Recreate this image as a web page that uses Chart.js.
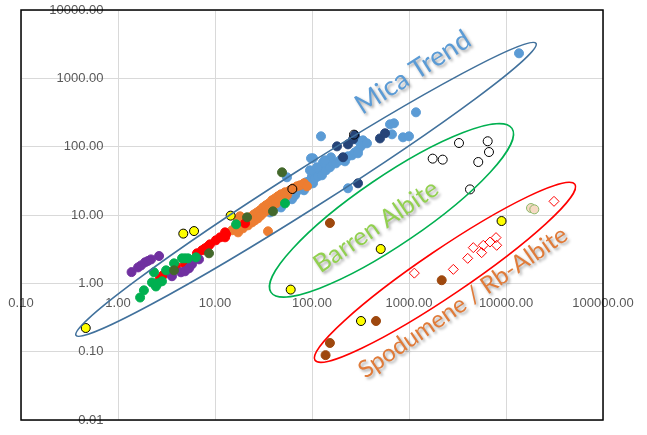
<!DOCTYPE html>
<html>
<head>
<meta charset="utf-8">
<script src="https://cdn.jsdelivr.net/npm/chart.js@4"></script>
<style>
    html, body { margin: 0; padding: 0; background: #fff; }
    #wrap { width: 647px; height: 435px; position: relative; }
</style>
</head>
<body>
<div id="wrap"><canvas id="chart"></canvas></div>
<script>
const ctx = document.getElementById('chart');

// axis ticks
const xTicks = [0.1, 1, 10, 100, 1000, 10000, 100000];
const xTickLabels = ['0.10', '1.00', '10.00', '100.00', '1000.00', '10000.00', '100000.00'];
const yTicks = [0.01, 0.1, 1, 10, 100, 1000, 10000];
const yTickLabels = ['0.01', '0.10', '1.00', '10.00', '100.00', '1000.00', '10000.00'];

// series values [x, y]
const purple = [[1.38,1.46],[1.61,1.71],[1.73,1.83],[1.90,2.03],[2.04,2.13],[2.19,2.24],[2.65,2.51],
    [3.60,1.27],[4.46,1.45],[4.91,1.50],[5.40,1.66],[5.79,1.90],[6.84,2.24]];
const green = [[1.69,0.62],[1.85,0.79],[2.24,1.03],[2.35,1.45],[2.46,0.90],[2.58,1.00],[2.84,1.07],
    [3.13,1.55],[3.78,1.96],[4.57,2.32],[4.91,2.32],[5.27,2.32],[6.37,2.40],[16.5,7.30],[52.7,14.8]];
const red = [[2.71,1.18],[2.91,1.31],[3.20,1.50],[3.96,1.77],[4.91,1.90],[5.52,2.10],[6.52,2.75],
    [7.34,3.04],[7.88,3.25],[8.47,3.48],[8.88,3.72],[10.2,4.26],[11.3,4.71],[12.7,5.57],[12.7,4.71],
    [13.0,5.21],[20.4,7.55]];
const olive = [[3.78,1.55],[8.67,2.75],[21.4,9.25],[39.6,11.3],[49.1,42.1]];
const orange = [[15.0,5.97],[16.5,6.82],[17.3,5.57],[18.5,7.30],[19.4,6.38],[20.9,8.36],[21.9,7.06],
    [22.9,9.25],[24.1,7.81],[25.2,10.2],[25.8,8.36],[27.1,10.9],[27.7,8.94],[29.1,11.7],[29.8,9.89],
    [31.3,12.9],[32.0,10.9],[33.6,13.9],[34.4,11.7],[36.0,14.8],[36.9,12.5],[38.7,16.4],[39.6,13.9],
    [41.6,17.5],[42.6,14.8],[44.6,18.8],[45.7,16.4],[47.9,20.1],[50.2,17.5],[52.7,21.5],[55.2,19.4],
    [59.3,23.0],[63.7,24.6],[70.0,26.3],[75.2,27.2],[82.7,29.1],[88.8,26.3],[35.2,5.77],[18.1,9.57],
    [17.3,8.36]];
const lightBlue = [[36.9,10.9],[41.6,13.9],[47.9,12.9],[51.4,16.4],[55.2,18.1],[59.3,19.4],[62.2,17.0],
    [66.8,19.4],[70.0,22.2],[75.2,24.6],[78.9,27.2],[82.7,23.0],[86.7,30.1],[90.9,27.2],[95.3,32.2],
    [100,36.8],[102.4,29.1],[107.4,34.4],[112.6,42.1],[115.3,36.8],[120.9,45.1],[126.7,38.1],
    [132.9,48.2],[139.4,45.1],[146.2,53.3],[153.3,49.9],[164.6,57.0],[176.6,57.0],[194.4,63.1],
    [208.7,67.5],[218.8,61.0],[234.8,72.2],[258.3,74.7],[277.3,82.6],[297.7,88.4],[157.0,69.8],
    [129.8,59.0],[102.4,67.5],[97.7,67.5],[136.1,63.1],[55.2,35.6],[95.3,45.1],[112.6,49.9],
    [78.9,25.4],[234.8,24.6],[123.8,141.7],[297.7,123.8],[335.5,123.8],[319.6,101.2],[636.8,212.2],
    [700.0,219.6],[667.7,151.6],[866.6,137.0],[1000,141.7],[1180,318.2],[13620,2323],[368.8,111.9],
    [297.7,79.9]];
const darkBlue = [[181,101],[235,108],[265,128],[277,147],[209,70],[298,29.1],[502,132],[566,157]];
const yellow = [[0.465,0.222],[4.71,5.34],[6.08,5.82],[14.5,9.79],[60.3,0.81],[511,3.18],[320,0.281],[9000,8.16]];
const openCircles = [[1754,66.8],[2225,64.6],[3276,113],[6476,120],[6675,83.5],[5176,59.6],[4254,23.7],
    [62.7,24.0],[271,150]];
const brown = [[153,7.63],[153,0.134],[138,0.089],[457,0.281],[2174,1.11]];
const diamonds = [[1135,1.41],[2864,1.60],[4029,2.32],[4600,3.33],[5610,2.81],[5830,3.60],[6836,4.02],
    [7890,4.67],[8020,3.60],[31260,15.85]];
const tan = [[18100,12.65],[19580,12.1]];

// field outlines (data-space tips) and their labels
const fields = [
    { from: [0.369, 0.173], to: [20400, 3252], half: 20, color: '#41719C' },
    { from: [37.8, 0.738], to: [11530, 185.5], half: 34, color: '#00B050' },
    { from: [107.4, 0.0747], to: [51400, 28.1], half: 23, color: '#FF0000' },
];
const fieldLabels = [
    { text: 'Mica Trend', at: [1100, 1224], angle: 32.5, size: 27, color: '#5B9BD5' },
    { text: 'Barren Albite', at: [457, 6.83], angle: 34, size: 25, color: '#92D050' },
    { text: 'Spodumene / Rb-Albite', at: [3600, 0.527], angle: 34.5, size: 24, color: '#E07B39' },
];

const pts = (arr) => arr.map((p) => ({ x: p[0], y: p[1] }));

function series(arr, fill, stroke, opts) {
    return Object.assign({
        data: pts(arr),
        showLine: false,
        backgroundColor: fill,
        borderColor: stroke,
        borderWidth: 1,
        pointRadius: 4.5,
        pointHoverRadius: 4.5,
    }, opts || {});
}

// first dataset is drawn on top
const datasets = [
    series(tan, '#F6DAC4', '#8DB96A'),
    series(diamonds, 'rgba(255,255,255,0)', '#FF0000', { pointStyle: 'rectRot', pointRadius: 5 }),
    series(openCircles, 'rgba(255,255,255,0)', '#000000', { pointRadius: 4.5 }),
    series(yellow, '#FFFF00', '#000000', { pointRadius: 4.5 }),
    series(brown, '#9E480E', '#9E480E'),
    series(darkBlue, '#264478', '#264478'),
    series(olive, '#43682B', '#43682B'),
    series(green, '#00B050', '#00B050'),
    series(purple, '#7030A0', '#7030A0'),
    series(red, '#FF0000', '#FF0000'),
    series(orange, '#ED7D31', '#ED7D31'),
    series(lightBlue, '#5B9BD5', '#5B9BD5'),
];

const overlay = {
    id: 'overlay',
    afterDatasetsDraw(chart) {
        const c = chart.ctx;
        const xs = chart.scales.x;
        const ys = chart.scales.y;
        c.save();
        fields.forEach((f) => {
            const x1 = xs.getPixelForValue(f.from[0]), y1 = ys.getPixelForValue(f.from[1]);
            const x2 = xs.getPixelForValue(f.to[0]), y2 = ys.getPixelForValue(f.to[1]);
            const a = Math.hypot(x2 - x1, y2 - y1) / 2;
            c.beginPath();
            c.ellipse((x1 + x2) / 2, (y1 + y2) / 2, a, f.half, Math.atan2(y2 - y1, x2 - x1), 0, Math.PI * 2);
            c.strokeStyle = f.color;
            c.lineWidth = 1.6;
            c.stroke();
        });
        fieldLabels.forEach((l) => {
            c.save();
            c.translate(xs.getPixelForValue(l.at[0]), ys.getPixelForValue(l.at[1]));
            c.rotate(-l.angle * Math.PI / 180);
            c.font = l.size + 'px Lato, "Open Sans", sans-serif';
            c.textAlign = 'center';
            c.textBaseline = 'middle';
            c.shadowColor = 'rgba(0,0,0,0.35)';
            c.shadowOffsetX = 2;
            c.shadowOffsetY = 2;
            c.shadowBlur = 3;
            c.fillStyle = l.color;
            c.fillText(l.text, 0, 0);
            c.restore();
        });
        c.restore();
    },
    afterDraw(chart) {
        const a = chart.chartArea;
        const c = chart.ctx;
        c.save();
        c.strokeStyle = '#000000';
        c.lineWidth = 1.5;
        c.strokeRect(a.left, a.top, a.right - a.left, a.bottom - a.top);
        c.restore();
    },
};

const tickFont = { family: '"Liberation Sans", Arial, sans-serif', size: 13 };

// keep the tick labels from pushing the plot area inwards
function noPadding(s) {
    s.paddingLeft = 0;
    s.paddingRight = 0;
    s.paddingTop = 0;
    s.paddingBottom = 0;
}

new Chart(ctx, {
    type: 'scatter',
    data: { datasets: datasets },
    options: {
        responsive: true,
        maintainAspectRatio: false,
        animation: false,
        layout: { padding: { left: 21, right: 44, top: 10, bottom: 15 } },
        plugins: { legend: { display: false }, tooltip: { enabled: false } },
        scales: {
            x: {
                type: 'logarithmic',
                min: 0.1,
                max: 100000,
                position: { y: 1 },
                afterBuildTicks: (s) => { s.ticks = xTicks.map((v) => ({ value: v })); },
                afterFit: noPadding,
                grid: { color: '#D9D9D9', drawTicks: false },
                border: { display: false },
                ticks: {
                    color: '#595959',
                    font: tickFont,
                    padding: 12,
                    autoSkip: false,
                    maxRotation: 0,
                    callback: (v) => xTickLabels[xTicks.indexOf(v)],
                },
            },
            y: {
                type: 'logarithmic',
                min: 0.01,
                max: 10000,
                position: { x: 1 },
                afterBuildTicks: (s) => { s.ticks = yTicks.map((v) => ({ value: v })); },
                afterFit: noPadding,
                grid: { color: '#D9D9D9', drawTicks: false },
                border: { display: false },
                ticks: {
                    color: '#595959',
                    font: tickFont,
                    padding: 0,
                    autoSkip: false,
                    // trailing gap keeps the right-aligned labels off the axis line
                    callback: (v) => yTickLabels[yTicks.indexOf(v)] + '    ',
                },
            },
        },
    },
    plugins: [overlay],
});
</script>
</body>
</html>
